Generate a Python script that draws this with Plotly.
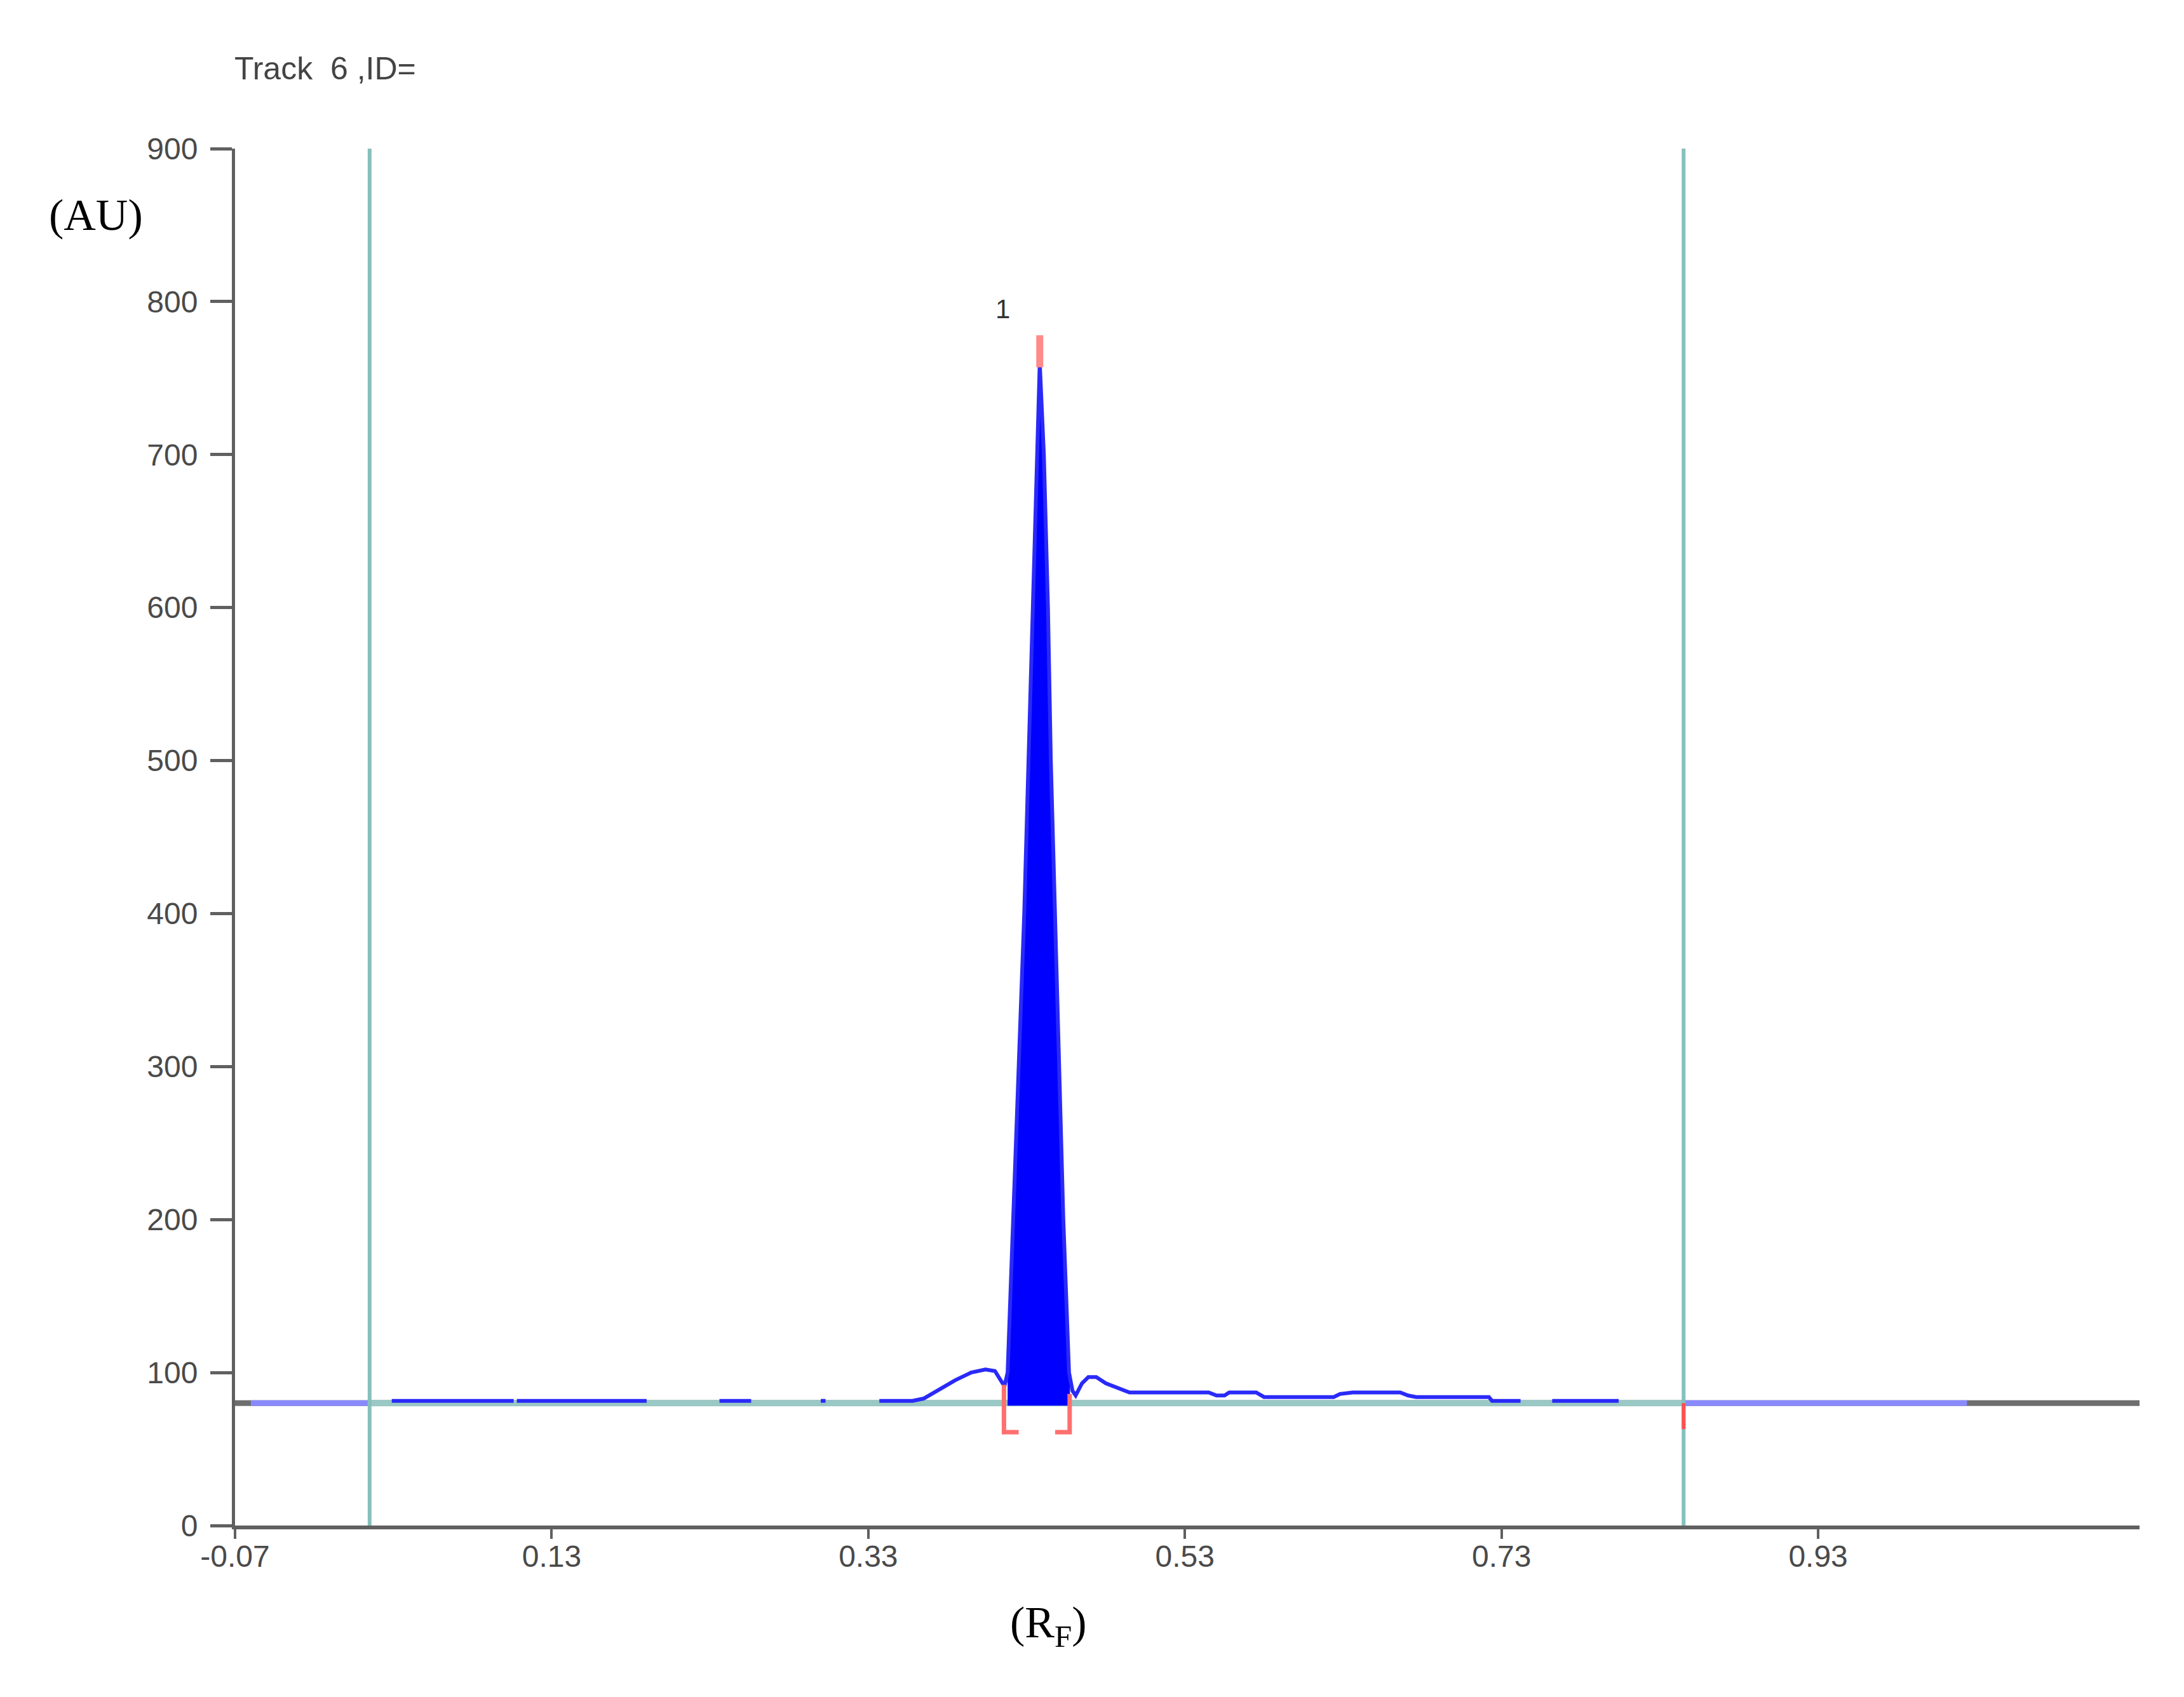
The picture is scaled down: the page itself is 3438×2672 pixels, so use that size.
import plotly.graph_objects as go

# === 데이터 ===
# baseline level and integration window (Rf)
BASELINE_AU = 80
window_rf = [0.015, 0.845]
scan_rf = [-0.07, 1.133]            # full scan
track_rf = [-0.06, 1.024]           # measured track (light blue)

# curve left of the peak (None = hidden under baseline)
left_rf = [0.029, 0.106, None, 0.108, 0.190, None, 0.236, 0.256, None, 0.300, 0.303, None,
           0.337, 0.358, 0.365, 0.375, 0.385, 0.395, 0.404, 0.410, 0.414, 0.416]
left_au = [81.5, 81.5, None, 81.5, 81.5, None, 81.5, 81.5, None, 81.5, 81.5, None,
           81.5, 81.5, 83, 89, 95, 100, 102, 101, 95, 91]

# peak 1
peak_rf = [0.418, 0.4215, 0.425, 0.4285, 0.4312, 0.4338, 0.4365, 0.4383,
           0.4409, 0.4435, 0.4453, 0.448, 0.4506, 0.4532, 0.4568]
peak_au = [100, 200, 300, 400, 500, 600, 700, 760,
           700, 600, 500, 400, 300, 200, 100]

# curve right of the peak
right_rf = [0.459, 0.461, 0.465, 0.469, 0.474, 0.480, 0.487, 0.495, 0.545, 0.550, 0.555,
            0.558, 0.575, 0.580, 0.624, 0.628, 0.636, 0.666, 0.671, 0.676, 0.722, 0.724,
            0.742, None, 0.762, 0.804]
right_au = [88, 85, 93, 97, 97, 93, 90, 87, 87, 85, 85,
            87, 87, 84, 84, 86, 87, 87, 85, 84, 84, 81.5,
            81.5, None, 81.5, 81.5]

peak_top_mark = [757, 778]
bracket_left_rf = [0.4157, 0.4157, 0.425]
bracket_left_au = [92, 61, 61]
bracket_right_rf = [0.4572, 0.4572, 0.448]
bracket_right_au = [86, 61, 61]
end_mark_au = [80, 63]

x_ticks = [-0.07, 0.13, 0.33, 0.53, 0.73, 0.93]
y_ticks = [0, 100, 200, 300, 400, 500, 600, 700, 800, 900]

# === 색상 ===
COLOR_CURVE = "#2a2af8"
COLOR_FILL = "#0000ff"
COLOR_TEAL = "#86c0bc"
COLOR_RED = "#ff6f6f"
COLOR_AXIS = "#606060"
FONT_COLOR = "#4a4a4a"
TICK_FONT = "Arial, Liberation Sans"
SERIF = "Liberation Serif, Times New Roman"

fig = go.Figure()

# full scan line (grey) and track line (light blue)
fig.add_trace(go.Scatter(x=scan_rf, y=[BASELINE_AU] * 2, mode="lines",
                         line=dict(color="#6e6e6e", width=9)))
fig.add_trace(go.Scatter(x=track_rf, y=[BASELINE_AU] * 2, mode="lines",
                         line=dict(color="#8a8aff", width=9)))

# baseline inside the window
fig.add_trace(go.Scatter(x=window_rf, y=[BASELINE_AU] * 2, mode="lines",
                         line=dict(color="#9ac8c4", width=10)))

# window borders
for rf in window_rf:
    fig.add_trace(go.Scatter(x=[rf, rf], y=[y_ticks[0], y_ticks[-1]], mode="lines",
                             line=dict(color=COLOR_TEAL, width=6)))

# filled peak
fig.add_trace(go.Scatter(
    x=peak_rf + [peak_rf[-1], peak_rf[0]],
    y=peak_au + [BASELINE_AU - 1, BASELINE_AU - 1],
    mode="lines", fill="toself", fillcolor=COLOR_FILL,
    line=dict(color=COLOR_FILL, width=3),
))

# densitogram curve
fig.add_trace(go.Scatter(
    x=left_rf + peak_rf + right_rf,
    y=left_au + peak_au + right_au,
    mode="lines", connectgaps=False,
    line=dict(color=COLOR_CURVE, width=6),
))

# red markers
fig.add_trace(go.Scatter(x=[peak_rf[7]] * 2, y=peak_top_mark, mode="lines",
                         line=dict(color="#ff8a8a", width=11)))
fig.add_trace(go.Scatter(x=bracket_left_rf, y=bracket_left_au, mode="lines",
                         line=dict(color=COLOR_RED, width=7)))
fig.add_trace(go.Scatter(x=bracket_right_rf, y=bracket_right_au, mode="lines",
                         line=dict(color=COLOR_RED, width=7)))
fig.add_trace(go.Scatter(x=[window_rf[1]] * 2, y=end_mark_au, mode="lines",
                         line=dict(color="#ff5050", width=6)))

# peak number
fig.add_annotation(x=0.415, y=795, text="1", showarrow=False,
                   font=dict(family=TICK_FONT, size=42, color="#333333"))

# texts
fig.add_annotation(x=-0.001, y=1.058, xref="paper", yref="paper",
                   xanchor="left", yanchor="middle",
                   text="Track  6 ,ID=", showarrow=False,
                   font=dict(family=TICK_FONT, size=50, color="#444444"))
fig.add_annotation(x=-0.073, y=0.952, xref="paper", yref="paper",
                   xanchor="center", yanchor="middle",
                   text="(AU)", showarrow=False,
                   font=dict(family=SERIF, size=70, color="#000000"))
fig.add_annotation(x=0.427, y=-0.073, xref="paper", yref="paper",
                   xanchor="center", yanchor="middle",
                   text="(R<sub>F</sub>)", showarrow=False,
                   font=dict(family=SERIF, size=70, color="#000000"))

fig.update_layout(
    width=3438, height=2672,
    paper_bgcolor="white", plot_bgcolor="white",
    showlegend=False,
    margin=dict(l=362, r=78, t=226, b=278),
    font=dict(family=TICK_FONT, size=48, color=FONT_COLOR),
    xaxis=dict(
        range=scan_rf, tickvals=x_ticks, ticktext=[f"{v:.2f}" for v in x_ticks],
        showgrid=False, zeroline=False, showline=True, linecolor=COLOR_AXIS, linewidth=6,
        ticks="outside", ticklen=15, tickwidth=4, tickcolor=COLOR_AXIS,
        ticklabelstandoff=-14, automargin=False,
    ),
    yaxis=dict(
        range=[y_ticks[0], y_ticks[-1]], tickvals=y_ticks,
        showgrid=False, zeroline=False, showline=True, linecolor=COLOR_AXIS, linewidth=5,
        ticks="outside", ticklen=34, tickwidth=5, tickcolor=COLOR_AXIS,
        ticklabelstandoff=10, automargin=False,
    ),
)

fig.write_html("out.html")
